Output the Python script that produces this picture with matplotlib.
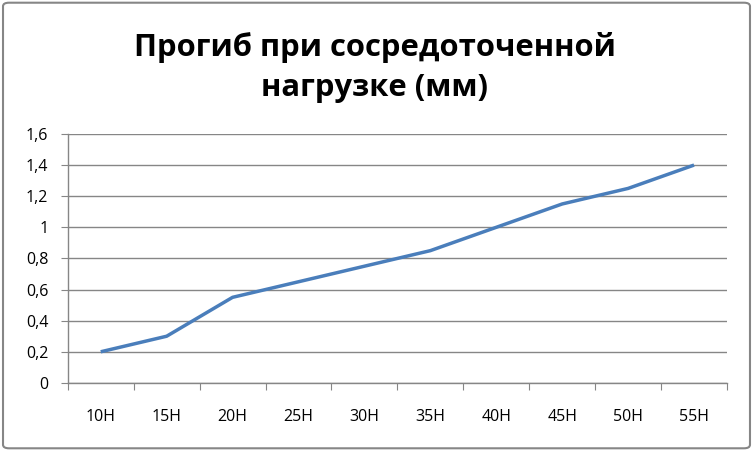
import matplotlib
matplotlib.use('Agg')
import matplotlib.pyplot as plt
from matplotlib.patches import FancyBboxPatch
from matplotlib.ticker import FuncFormatter

# Data.
categories = ['10Н', '15Н', '20Н', '25Н', '30Н', '35Н', '40Н', '45Н', '50Н', '55Н']
deflection = [0.2, 0.3, 0.55, 0.65, 0.75, 0.85, 1.0, 1.15, 1.25, 1.4]
y_ticks = [0, 0.2, 0.4, 0.6, 0.8, 1.0, 1.2, 1.4, 1.6]
title = 'Прогиб при сосредоточенной\nнагрузке (мм)'

plt.rcParams['font.family'] = ['Open Sans', 'DejaVu Sans']

fig = plt.figure(figsize=(7.53, 4.51), dpi=100)
ax = fig.add_axes([0.090, 0.151, 0.8755, 0.552])

grey = '#868686'
x = list(range(len(categories)))
ax.plot(x, deflection, color='#4A7EBB', linewidth=2.5, solid_capstyle='butt')

ax.set_xlim(-0.5, len(categories) - 0.5)
ax.set_ylim(0, 1.6)
ax.set_yticks(y_ticks)
ax.yaxis.set_major_formatter(FuncFormatter(lambda v, p: f'{v:g}'.replace('.', ',')))
ax.grid(axis='y', color=grey, linewidth=1)
ax.set_axisbelow(True)

# Tick marks sit between categories, labels at the centres.
ax.set_xticks([i - 0.5 for i in range(len(categories) + 1)])
ax.set_xticklabels([])
ax.set_xticks(x, minor=True)
ax.set_xticklabels(categories, minor=True)
ax.tick_params(axis='x', which='major', length=5, color=grey, direction='out')
ax.tick_params(axis='x', which='minor', length=0, pad=19, labelsize=11.5, labelcolor='#000000')
ax.tick_params(axis='y', length=5, color=grey, pad=9, labelsize=11.5, labelcolor='#000000')

for side in ['top', 'right']:
    ax.spines[side].set_visible(False)
for side in ['left', 'bottom']:
    ax.spines[side].set_color(grey)
    ax.spines[side].set_linewidth(1)

fig.text(0.498, 0.850, title, ha='center', va='center', fontsize=22.3,
         fontweight='bold', linespacing=1.45)

# Outer chart frame.
frame = FancyBboxPatch((0.004, 0.006), 0.992, 0.988, boxstyle='round,pad=0,rounding_size=0.008',
                       transform=fig.transFigure, facecolor='none', edgecolor=grey, linewidth=1.5)
fig.patches.append(frame)

fig.savefig('out.png', dpi=100)
